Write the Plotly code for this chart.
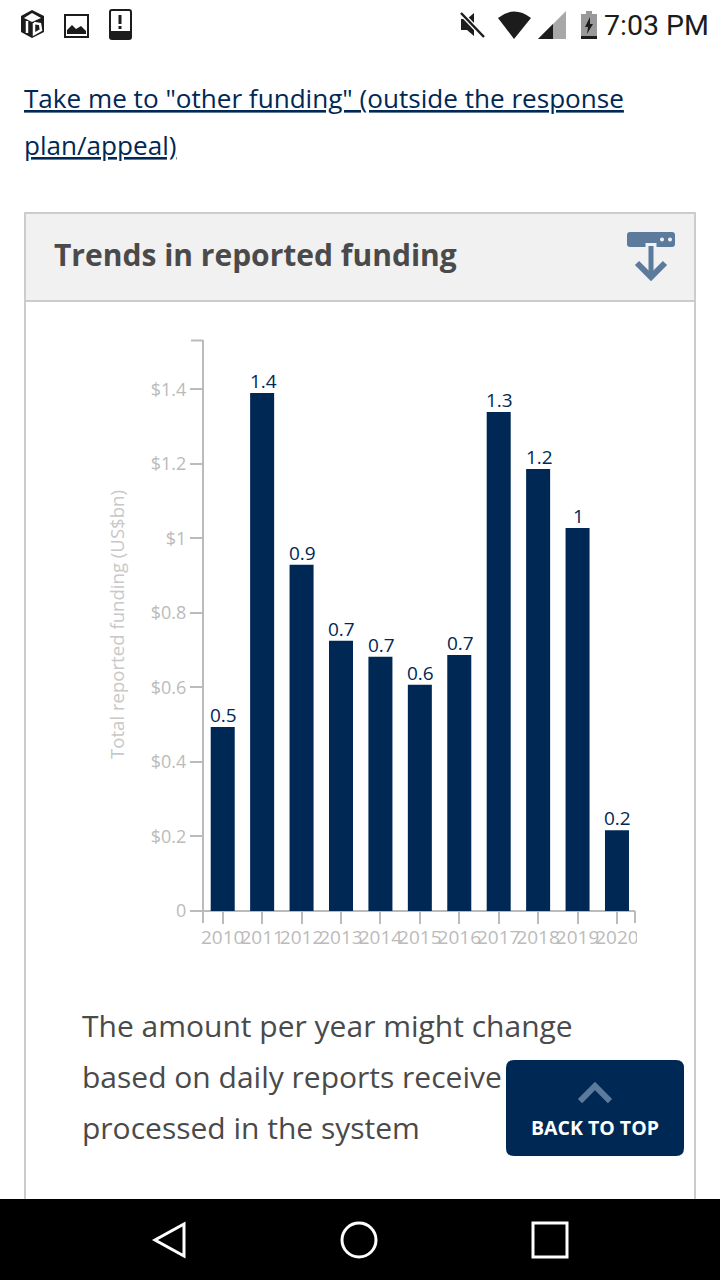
import plotly.graph_objects as go

years = ["2010","2011","2012","2013","2014","2015","2016","2017","2018","2019","2020"]
funding = [0.494,1.39,0.929,0.725,0.682,0.607,0.687,1.339,1.186,1.028,0.217]
bar_labels = ["0.5","1.4","0.9","0.7","0.7","0.6","0.7","1.3","1.2","1","0.2"]
y_ticks = [0,0.2,0.4,0.6,0.8,1,1.2,1.4]
y_tick_labels = ["0","$0.2","$0.4","$0.6","$0.8","$1","$1.2","$1.4"]

NAVY="#002855"; GREY="#bbbbbb"; TXT="#4a4a4a"; STEEL="#5c7a9b"; FONT="Open Sans"
X=lambda v:v/720
Y=lambda v:1-v/1280

def poly(pts,close=True):
    s="M "+" L ".join(f"{X(a):.5f},{Y(b):.5f}" for a,b in pts)
    return s+(" Z" if close else "")
def rr(x0,y0,x1,y1,r):
    c=lambda a,b:f"{X(a):.5f},{Y(b):.5f}"
    return (f"M {c(x0+r,y0)} L {c(x1-r,y0)} Q {c(x1,y0)} {c(x1,y0+r)} L {c(x1,y1-r)} Q {c(x1,y1)} {c(x1-r,y1)} "
            f"L {c(x0+r,y1)} Q {c(x0,y1)} {c(x0,y1-r)} L {c(x0,y0+r)} Q {c(x0,y0)} {c(x0+r,y0)} Z")

shapes=[]
def path(p,fill=None,line=None,w=0,layer="below"):
    shapes.append(dict(type="path",xref="paper",yref="paper",path=p,layer=layer,
        fillcolor=fill or "rgba(0,0,0,0)",line=dict(color=line or "rgba(0,0,0,0)",width=w)))
def rect(x0,y0,x1,y1,fill=None,line=None,w=0,layer="below"):
    shapes.append(dict(type="rect",xref="paper",yref="paper",x0=X(x0),x1=X(x1),y0=Y(y0),y1=Y(y1),layer=layer,
        fillcolor=fill or "rgba(0,0,0,0)",line=dict(color=line or "rgba(0,0,0,0)",width=w)))
def seg(pts,color,w,layer="below"):
    path(poly(pts,False),None,color,w,layer)

# card
rect(25,213,695,1230,"#ffffff","#cccccc",2)
rect(26,214,694,301,"#f1f1f1")
seg([(25,301),(695,301)],"#cccccc",2)
# header icon
path(rr(627,232,675,247,3),STEEL)
seg([(651,256),(651,243)],"#f1f1f1",11)
seg([(651,246),(651,276)],STEEL,5)
seg([(637,263),(651,277),(665,263)],STEEL,6)
for cx in (662,670):
    shapes.append(dict(type="circle",xref="paper",yref="paper",x0=X(cx-2),x1=X(cx+2),y0=Y(237.5),y1=Y(241.5),fillcolor="#f1f1f1",line=dict(width=0),layer="below"))
# axis ends
seg([(191,340.5),(203,340.5)],GREY,2)
seg([(203,340),(203,911)],GREY,2)
seg([(191,911),(635,911)],GREY,2)
seg([(203,911),(203,923)],GREY,2)
seg([(635,911),(635,923)],GREY,2)
# clip of last tick label
rect(637,925,680,955,"#ffffff",layer="above")
# back to top button
path(rr(506,1060,684,1156,8),NAVY,layer="above")
seg([(580,1101),(595,1086),(610,1101)],"#5c7a9b",6,layer="above")
# nav bar
rect(0,1199,720,1280,"#000000",layer="above")
path(poly([(184,1224),(184,1256),(155,1240)]),None,"#ffffff",3,"above")
shapes.append(dict(type="circle",xref="paper",yref="paper",x0=X(342),x1=X(376),y0=Y(1223),y1=Y(1257),line=dict(color="#ffffff",width=3),layer="above"))
rect(533,1223,567,1257,None,"#ffffff",3,"above")
# status bar
D="#1c1c1c"
path(poly([(32,10),(44,16),(44,32),(32,38),(21,32),(21,16)]),D)
path(poly([(32,13),(41,18),(32,22),(24,18)]),"#ffffff")
seg([(27,21),(27,33)],"#ffffff",2.5)
seg([(34,23),(40,24),(41,30),(34,34),(34,23)],"#ffffff",2.5)
rect(65,15,88,37,"#ffffff",D,2)
path(poly([(67,34),(67,30),(72,25),(76,29),(81,26),(86,31),(86,34)]),D)
path(rr(110,10,131,39,2),"#ffffff",D,2)
rect(110,31,131,39,D)
seg([(120,15),(120,24)],D,3)
seg([(120,26),(120,29)],D,3)
path(poly([(461,19),(467,19),(474,13),(474,36),(467,30),(461,30)]),D)
seg([(461,13),(484,37)],"#ffffff",5)
seg([(461,13),(484,37)],D,2.5)
path("M "+f"{X(514):.5f},{Y(39):.5f} L {X(498):.5f},{Y(18):.5f} Q {X(514):.5f},{Y(5):.5f} {X(531):.5f},{Y(18):.5f} Z",D)
path(poly([(538,39),(566,11),(566,39)]),"#a8a8a8")
path(poly([(538,39),(553,24),(553,39)]),D)
rect(581,14,597,38,"#999999")
rect(586,11,592,14,"#999999")
rect(581,36,597,39,D)
path(poly([(590,17),(585,27),(588,27),(587,34),(593,24),(590,24)]),D)

anns=[]
def note(x,y,text,size,color,anchor="left",family=FONT,angle=0):
    anns.append(dict(xref="paper",yref="paper",x=X(x),y=Y(y),text=text,showarrow=False,xanchor=anchor,yanchor="middle",
        font=dict(family=family,size=size,color=color),textangle=angle))
note(602,25,"7:03 PM",28.5,D,family="Roboto")
note(22,98,'<u>Take me to "other funding" (outside the response</u>',26.1,NAVY)
note(22,145,'<u>plan/appeal)</u>',26.1,NAVY)
note(52,254,"<b>Trends in reported funding</b>",30,TXT)
note(116,625,"Total reported funding (US$bn)",18.6,"#c8c8c8","center",angle=-90)
note(80,1025,"The amount per year might change",30,TXT)
note(80,1076,"based on daily reports receive",30,TXT)
note(80,1127,"processed in the system",30,TXT)
note(595,1127,"<b>BACK TO TOP</b>",19.5,"#ffffff","center")
for i,(val,lab) in enumerate(zip(funding,bar_labels)):
    anns.append(dict(xref="x",yref="y",x=i,y=val,text=lab,showarrow=False,xanchor="center",yanchor="bottom",yshift=-3,xshift=1,
        font=dict(family=FONT,size=19,color=NAVY)))

fig=go.Figure(go.Bar(x=years,y=funding,width=0.609,marker=dict(color=NAVY,line=dict(width=0)),hoverinfo="skip"))
fig.update_layout(width=720,height=1280,autosize=False,margin=dict(l=0,r=0,t=0,b=0),paper_bgcolor="#ffffff",plot_bgcolor="rgba(0,0,0,0)",
    showlegend=False,shapes=shapes,annotations=anns,font=dict(family=FONT),
    xaxis=dict(domain=[X(203),X(635)],type="category",range=[-0.5,10.457],tickmode="array",tickvals=years,ticktext=years,
        ticks="outside",ticklen=12,tickwidth=2,tickcolor=GREY,showgrid=False,showline=False,zeroline=False,ticklabelstandoff=-3,
        tickfont=dict(family=FONT,size=19,color=GREY),tickangle=0,automargin=False),
    yaxis=dict(domain=[Y(911),Y(340.5)],range=[0,1.531],tickmode="array",tickvals=y_ticks,ticktext=y_tick_labels,
        ticks="outside",ticklen=12,tickwidth=2,tickcolor=GREY,showgrid=False,showline=False,zeroline=False,
        tickfont=dict(family=FONT,size=18,color=GREY),automargin=False))
fig.write_html("out.html",post_script="document.body.style.margin='0';document.documentElement.style.background='#fff';",config=dict(displayModeBar=False))
